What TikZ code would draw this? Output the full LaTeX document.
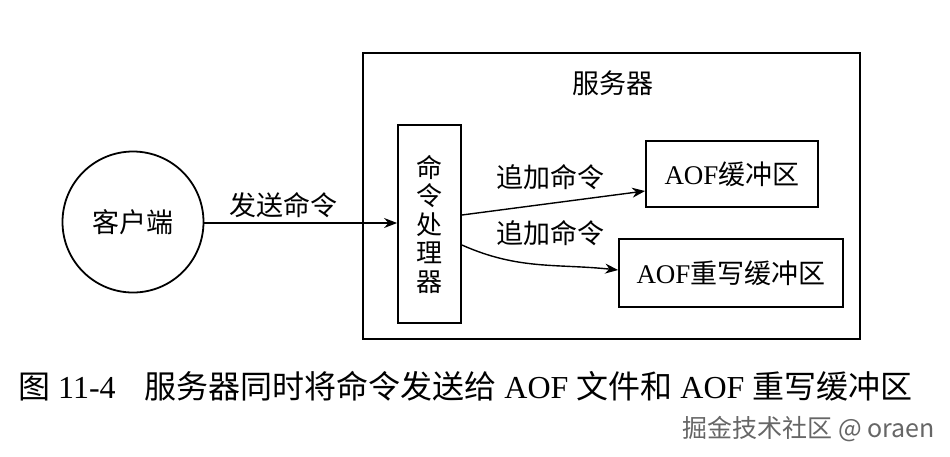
\documentclass[tikz,border=0pt]{standalone}
\usepackage{fontspec}
\setmainfont{Liberation Serif}
\newfontfamily\cjk{Noto Sans CJK SC}
\newfontfamily\wm{Noto Sans CJK SC}
\usetikzlibrary{arrows.meta}
\begin{document}
\begin{tikzpicture}[x=1pt,y=1pt,
  box/.style={draw,line width=1.8pt,inner sep=0pt},
  lbl/.style={font=\fontsize{27}{28}\selectfont\cjk},
  arr/.style={line width=1.4pt,-{Stealth[length=13pt,width=10pt]}}]
\useasboundingbox[fill=white] (0,0) rectangle (950,-456);
% server frame
\node[box,minimum width=497pt,minimum height=286pt] (server) at (611.5,-196) {};
\node[lbl] (servert) at (613,-83) {服务器};
% command processor
\node[box,minimum width=63pt,minimum height=198pt,align=center,
  font=\fontsize{26}{28.5}\selectfont\cjk] (proc) at (429.5,-224) {命\\令\\处\\理\\器};
% buffers
\node[box,minimum width=172pt,minimum height=66pt,font=\fontsize{27}{28}\selectfont] (aof) at (732,-174) {AOF{\cjk 缓冲区}};
\node[box,minimum width=224pt,minimum height=68pt,font=\fontsize{27}{28}\selectfont] (rew) at (731,-273) {AOF{\cjk 重写缓冲区}};
% client
\node[draw,circle,line width=1.8pt,minimum size=141pt,lbl] (client) at (133,-222) {客户端};
% arrows
\draw[arr] (client.east |- 0,-223) -- (proc.west |- 0,-223);
\node[lbl] (send) at (283,-205) {发送命令};
\draw[arr] ([yshift=9pt]proc.east) -- ([yshift=-17pt]aof.west);
\node[lbl] (add1) at (550,-177) {追加命令};
\draw[arr] ([yshift=-21pt]proc.east) to[out=-24,in=174] ([yshift=3pt]rew.west);
\node[lbl] (add2) at (550,-233) {追加命令};
% caption
\node[anchor=west,inner sep=0pt,font=\fontsize{32}{34}\selectfont] (cap) at (18,-386)
  {{\cjk 图} 11-4\hspace{0.9em}{\cjk 服务器同时将命令发送给} AOF {\cjk 文件和} AOF {\cjk 重写缓冲区}};
\node[anchor=east,inner sep=0pt,text=black!60,font=\fontsize{25}{27}\selectfont\wm] (mark) at (935,-429)
  {掘金技术社区 @ oraen};
\end{tikzpicture}
\end{document}
